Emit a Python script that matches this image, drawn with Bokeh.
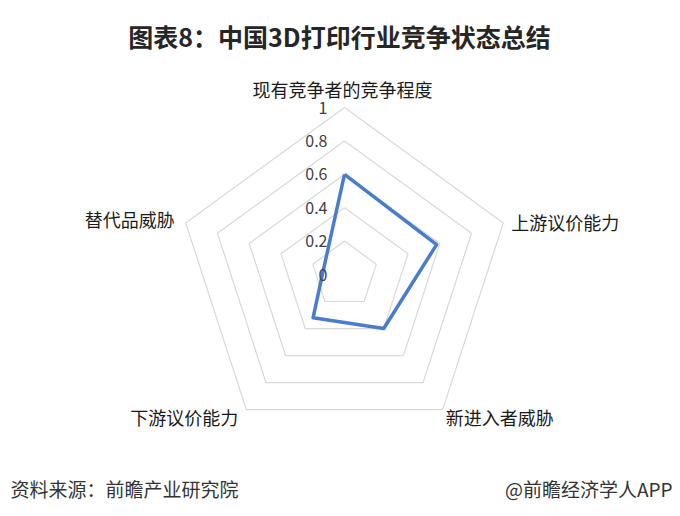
import numpy as np
from bokeh.plotting import figure
from bokeh.models import Label, Range1d
from bokeh.core.properties import value
from bokeh.embed import file_html
from bokeh.resources import INLINE

# ---- data ----
title_text = "图表8：中国3D打印行业竞争状态总结"
categories = ["现有竞争者的竞争程度", "上游议价能力", "新进入者威胁", "下游议价能力", "替代品威胁"]
values = [0.6, 0.58, 0.4, 0.32, 0.13]
ticks = [0, 0.2, 0.4, 0.6, 0.8, 1.0]
tick_labels = ["0", "0.2", "0.4", "0.6", "0.8", "1"]
source_text = "资料来源：前瞻产业研究院"
brand_text = "@前瞻经济学人APP"

# ---- layout ----
W, H = 676, 512
S = 167.0            # pixels per unit radius
CX, CY = 344, 274    # centre in pixels from top-left

FONT = "Noto Sans CJK SC"

p = figure(width=W, height=H, output_backend="svg", toolbar_location=None,
           x_range=Range1d(-CX / S, (W - CX) / S),
           y_range=Range1d(-(H - CY) / S, CY / S),
           min_border=0, outline_line_color=None, background_fill_color="white",
           border_fill_color="white")
p.xaxis.visible = False
p.yaxis.visible = False
p.grid.visible = False

n = len(categories)
ang = np.pi / 2 - 2 * np.pi * np.arange(n) / n
ca, sa = np.cos(ang), np.sin(ang)

# grid rings
for r in ticks[1:]:
    xs = list(r * ca) + [r * ca[0]]
    ys = list(r * sa) + [r * sa[0]]
    p.line(xs, ys, line_color="#d9d9d9", line_width=1.2)

# data polygon
vals = np.array(values)
xs = list(vals * ca) + [vals[0] * ca[0]]
ys = list(vals * sa) + [vals[0] * sa[0]]
p.line(xs, ys, line_color="#4a7ccc", line_width=3.5, line_join="round")

# radial tick labels
p.text(x=[-17 / S] * len(ticks), y=ticks, text=tick_labels,
       text_align="right", text_baseline="middle",
       text_font=value(FONT), text_font_size="16px", text_color="#404040")

# category labels: offsets in pixels (right, up) from each outer vertex
offs = [(-2, 19, "center"), (8, 1, "left"), (3, -7, "left"), (-8, -7, "right"), (-11, 4, "right")]
for i, cat in enumerate(categories):
    dx, dy, al = offs[i]
    p.text(x=[ca[i] + dx / S], y=[sa[i] + dy / S], text=[cat],
           text_align=al, text_baseline="middle",
           text_font=value(FONT), text_font_size="18px", text_color="#1a1a1a")

# title & footer
p.add_layout(Label(x=339, y=H - 35, x_units="screen", y_units="screen", text=title_text,
                   text_align="center", text_baseline="middle", text_font=FONT,
                   text_font_size="25px", text_font_style="bold", text_color="#262626"))
p.add_layout(Label(x=10, y=H - 488, x_units="screen", y_units="screen", text=source_text,
                   text_align="left", text_baseline="middle", text_font=FONT,
                   text_font_size="19px", text_color="#333333"))
p.add_layout(Label(x=672, y=H - 488, x_units="screen", y_units="screen", text=brand_text,
                   text_align="right", text_baseline="middle", text_font=FONT,
                   text_font_size="19px", text_color="#333333"))

open("out.html", "w").write(file_html(p, INLINE))
